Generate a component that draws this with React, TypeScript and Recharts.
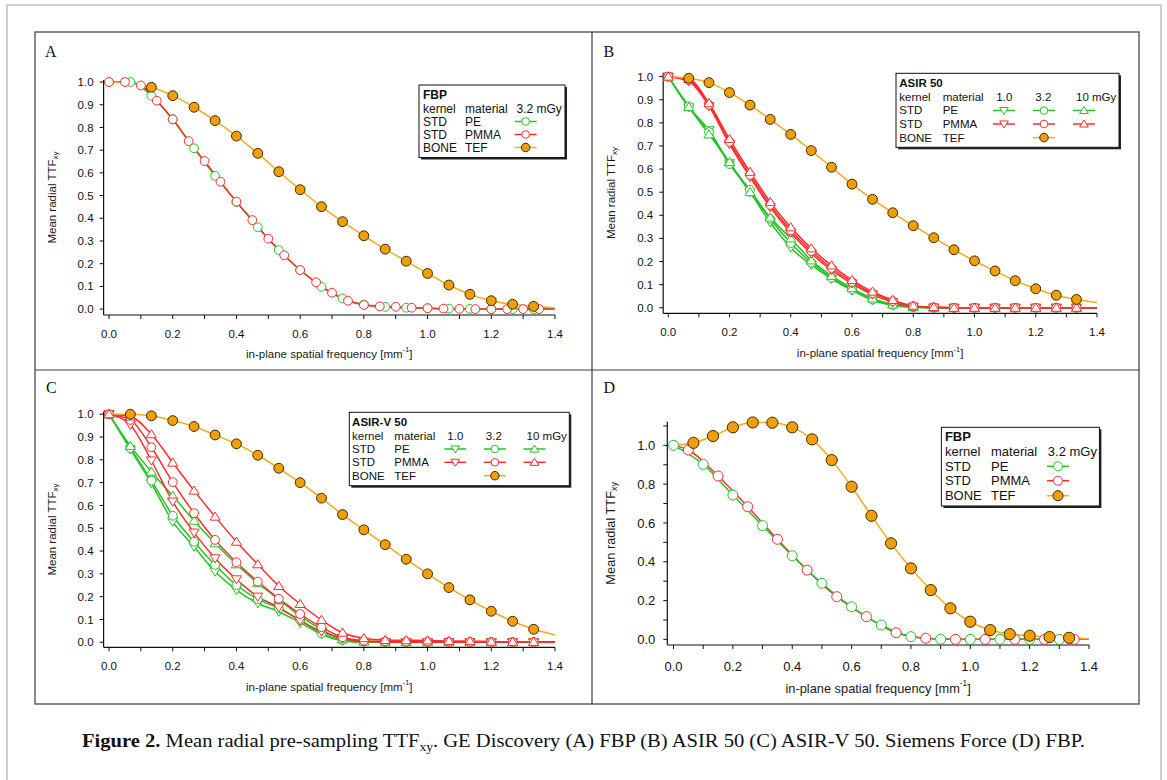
import React from "react";
import { ComposedChart, Line, XAxis, YAxis, Label } from "recharts";

const SANS = '"Liberation Sans", Arial, sans-serif';
const SERIF = '"Liberation Serif", "Times New Roman", serif';

const GREEN = "#25c425";
const RED = "#ff2d2d";
const ORANGE_LINE = "#f5ab1a";
const ORANGE_FILL = "#f29f05";
const DOT_EDGE = "#3b2a06";

// frequency grids in mm^-1; the last point is where the curve ends (no marker)
const F15 = [0, 0.067, 0.133, 0.2, 0.267, 0.333, 0.4, 0.467, 0.533, 0.6, 0.667, 0.733, 0.8, 0.867, 0.933, 1.0, 1.067, 1.133, 1.2, 1.267, 1.333, 1.4];
const F05 = [0, 0.05, 0.1, 0.15, 0.2, 0.25, 0.3, 0.35, 0.4, 0.45, 0.5, 0.55, 0.6, 0.65, 0.7, 0.75, 0.8, 0.85, 0.9, 0.95, 1.0, 1.05, 1.1, 1.15, 1.2, 1.25, 1.3, 1.35, 1.4];
const F10 = [0, 0.1, 0.2, 0.3, 0.4, 0.5, 0.6, 0.7, 0.8, 0.9, 1.0, 1.1, 1.2, 1.3, 1.4];
const F10H = [0, 0.05, 0.15, 0.25, 0.35, 0.45, 0.55, 0.65, 0.75, 0.85, 0.95, 1.05, 1.15, 1.25, 1.35, 1.4];

const X_TICKS = [0, 0.1, 0.2, 0.3, 0.4, 0.5, 0.6, 0.7, 0.8, 0.9, 1.0, 1.1, 1.2, 1.3, 1.4];
const Y_TICKS = [0, 0.1, 0.2, 0.3, 0.4, 0.5, 0.6, 0.7, 0.8, 0.9, 1.0];
const Y_TICKS_D = [0, 0.1, 0.2, 0.3, 0.4, 0.5, 0.6, 0.7, 0.8, 0.9, 1.0, 1.1];

// A: GE Discovery FBP
const A_PE = [1.0, 1.0, 0.94, 0.836, 0.708, 0.587, 0.472, 0.36, 0.26, 0.172, 0.098, 0.047, 0.02, 0.01, 0.006, 0.004, 0.002, 0.001, 0, 0, 0, 0];
const A_PMMA = [1.0, 1.0, 0.985, 0.918, 0.836, 0.74, 0.652, 0.561, 0.473, 0.392, 0.31, 0.237, 0.172, 0.118, 0.072, 0.037, 0.018, 0.012, 0.01, 0.006, 0.004, 0.002, 0.001, 0, 0, 0, 0, 0, 0];
const A_TEF = [1.0, 0.995, 0.977, 0.94, 0.889, 0.83, 0.762, 0.686, 0.605, 0.526, 0.451, 0.385, 0.323, 0.264, 0.211, 0.157, 0.106, 0.065, 0.037, 0.021, 0.012, 0.005];

// B: ASIR 50 (1.0 / 3.2 / 10 mGy)
const B_PE_1 = [1.0, 0.867, 0.768, 0.625, 0.5, 0.37, 0.26, 0.185, 0.125, 0.075, 0.032, 0.01, 0.002, 0, 0, 0, 0, 0, 0, 0, 0, 0];
const B_PE_3 = [1.0, 0.872, 0.76, 0.622, 0.51, 0.385, 0.28, 0.195, 0.13, 0.08, 0.036, 0.012, 0.002, 0, 0, 0, 0, 0, 0, 0, 0, 0];
const B_PE_10 = [1.0, 0.868, 0.75, 0.63, 0.5, 0.39, 0.3, 0.205, 0.138, 0.085, 0.04, 0.014, 0.003, 0, 0, 0, 0, 0, 0, 0, 0, 0];
const B_PMMA_1 = [1.0, 0.98, 0.872, 0.708, 0.565, 0.435, 0.325, 0.235, 0.163, 0.105, 0.057, 0.024, 0.005, 0.001, 0, 0, 0, 0, 0, 0, 0, 0];
const B_PMMA_3 = [1.0, 0.985, 0.878, 0.718, 0.575, 0.445, 0.335, 0.245, 0.172, 0.112, 0.063, 0.029, 0.007, 0.002, 0, 0, 0, 0, 0, 0, 0, 0];
const B_PMMA_10 = [1.0, 0.99, 0.885, 0.73, 0.588, 0.457, 0.348, 0.257, 0.183, 0.12, 0.07, 0.034, 0.009, 0.003, 0, 0, 0, 0, 0, 0, 0, 0];
const B_TEF = [1.0, 0.993, 0.974, 0.931, 0.877, 0.815, 0.75, 0.68, 0.608, 0.535, 0.469, 0.411, 0.355, 0.303, 0.251, 0.203, 0.159, 0.117, 0.082, 0.054, 0.036, 0.023];

// C: ASIR-V 50
const C_PE_1 = [1.0, 0.846, 0.697, 0.529, 0.419, 0.31, 0.229, 0.171, 0.134, 0.086, 0.035, 0.007, 0, 0, 0, 0, 0, 0, 0, 0, 0, 0];
const C_PE_3 = [1.0, 0.852, 0.709, 0.555, 0.441, 0.339, 0.251, 0.189, 0.149, 0.098, 0.039, 0.01, 0.001, 0, 0, 0, 0, 0, 0, 0, 0, 0];
const C_PE_10 = [1.0, 0.861, 0.748, 0.642, 0.533, 0.434, 0.342, 0.259, 0.189, 0.115, 0.057, 0.013, 0.003, 0, 0, 0, 0, 0, 0, 0, 0, 0];
const C_PMMA_1 = [1.0, 0.953, 0.797, 0.617, 0.481, 0.368, 0.276, 0.2, 0.153, 0.095, 0.047, 0.018, 0.003, 0.001, 0, 0, 0, 0, 0, 0, 0, 0];
const C_PMMA_3 = [1.0, 0.975, 0.855, 0.702, 0.566, 0.449, 0.351, 0.266, 0.191, 0.124, 0.066, 0.022, 0.007, 0.004, 0.003, 0.003, 0.002, 0.002, 0.001, 0.001, 0.001, 0.001];
const C_PMMA_10 = [1.0, 0.99, 0.912, 0.788, 0.665, 0.551, 0.441, 0.342, 0.247, 0.168, 0.098, 0.042, 0.018, 0.01, 0.009, 0.008, 0.006, 0.005, 0.003, 0.002, 0.002, 0.002];
const C_TEF = [1.0, 1.0, 0.993, 0.972, 0.946, 0.909, 0.87, 0.82, 0.763, 0.7, 0.632, 0.56, 0.493, 0.428, 0.364, 0.3, 0.24, 0.186, 0.136, 0.092, 0.057, 0.032];

// D: Siemens Force FBP
const D_PE = [1.0, 0.902, 0.744, 0.586, 0.431, 0.289, 0.168, 0.074, 0.014, 0.001, 0, 0, 0, 0, 0];
const D_PMMA = [1.0, 0.976, 0.842, 0.684, 0.516, 0.357, 0.22, 0.117, 0.034, 0.006, 0, 0, 0, 0, 0, 0];
const D_TEF = [1.0, 1.013, 1.048, 1.093, 1.118, 1.117, 1.093, 1.031, 0.924, 0.787, 0.637, 0.495, 0.366, 0.254, 0.16, 0.091, 0.048, 0.027, 0.019, 0.012, 0.008, 0.003];

const KERNELS = ["STD", "STD", "BONE"];
const MATERIALS = ["PE", "PMMA", "TEF"];
const DOSE_ONE = ["3.2 mGy"];
const DOSE_THREE = ["1.0", "3.2", "10 mGy"];

type Shape = "circle" | "down" | "up" | "dot";
type Series = { xs: number[]; ys: number[]; color: string; shape: Shape; from?: number };

function marker(shape: Shape, cx: number, cy: number, color: string, r: number) {
  if (shape === "dot")
    return <circle cx={cx} cy={cy} r={r * 1.12} fill={ORANGE_FILL} stroke={DOT_EDGE} strokeWidth={1} />;
  if (shape === "circle")
    return <circle cx={cx} cy={cy} r={r} fill="#fff" stroke={color} strokeWidth={1} />;
  const w = r * 1.15;
  const pts =
    shape === "up"
      ? `${cx},${cy - r * 1.05} ${cx - w},${cy + r * 0.8} ${cx + w},${cy + r * 0.8}`
      : `${cx},${cy + r * 1.05} ${cx - w},${cy - r * 0.8} ${cx + w},${cy - r * 0.8}`;
  return <polygon points={pts} fill="#fff" stroke={color} strokeWidth={1} />;
}

const lineColor = (s: Series) => (s.shape === "dot" ? ORANGE_LINE : s.color);

type Panel = {
  left: number; top: number; width: number; height: number;
  margin: { top: number; right: number };
  yW: number; xH: number;
  xDomain: [number, number]; yDomain: [number, number];
  yTicks: number[]; yEvery2: boolean;
  fs: number; titleFs: number; r: number;
  tickMX: number; tickMY: number;
  yTitleOff: number; xTitleOff: number;
  series: Series[];
};

const even = (v: number) => Math.round(v * 10) % 2 === 0;

function PanelChart({ p }: { p: Panel }) {
  const tick = { fontSize: p.fs, fill: "#111", fontFamily: SANS };
  return (
    <div style={{ position: "absolute", left: p.left, top: p.top }}>
      <ComposedChart width={p.width} height={p.height} margin={{ top: p.margin.top, right: p.margin.right, bottom: 0, left: 0 }}>
        <XAxis
          type="number" dataKey="x" domain={p.xDomain} ticks={X_TICKS} interval={0}
          tickFormatter={(v: number) => (even(v) ? v.toFixed(1) : "")}
          height={p.xH} tickSize={4} tickMargin={p.tickMX} tick={tick}
          axisLine={{ stroke: "#111", strokeWidth: 1.2 }} tickLine={{ stroke: "#111" }}
        >
          <Label
            content={(lp: any) => {
              const vb = lp.viewBox;
              const x = vb.x + vb.width / 2;
              const y = vb.y + p.xTitleOff;
              return (
                <text x={x} y={y} textAnchor="middle" dominantBaseline="central" fontFamily={SANS} fontSize={p.titleFs} fill="#1a1a1a">
                  in-plane spatial frequency [mm<tspan fontSize={p.titleFs * 0.65} dy={-p.titleFs * 0.4}>-1</tspan>
                  <tspan dy={p.titleFs * 0.4}>]</tspan>
                </text>
              );
            }}
          />
        </XAxis>
        <YAxis
          type="number" domain={p.yDomain} ticks={p.yTicks} interval={0}
          tickFormatter={(v: number) => (!p.yEvery2 || even(v) ? v.toFixed(1) : "")}
          width={p.yW} tickSize={4} tickMargin={p.tickMY} tick={tick}
          axisLine={{ stroke: "#111", strokeWidth: 1.2 }} tickLine={{ stroke: "#111" }}
        >
          <Label
            content={(lp: any) => {
              const vb = lp.viewBox;
              const x = vb.x + vb.width - p.yTitleOff;
              const y = vb.y + vb.height / 2;
              return (
                <text x={x} y={y} transform={`rotate(-90 ${x} ${y})`} textAnchor="middle" dominantBaseline="central" fontFamily={SANS} fontSize={p.titleFs} fill="#1a1a1a">
                  Mean radial TTF<tspan fontSize={p.titleFs * 0.7} dy={p.titleFs * 0.3}>xy</tspan>
                </text>
              );
            }}
          />
        </YAxis>
        {p.series.map((s, i) => {
          const data = s.xs.map((x, k) => ({ x, y: s.ys[k] }));
          const last = s.xs.length - 1;
          return (
            <Line
              key={i} data={data} dataKey="y" type="monotone"
              stroke={lineColor(s)} strokeWidth={1.5} activeDot={false} isAnimationActive={false}
              dot={(d: any) => {
                const k = `m${d.index}`;
                if (d.index < (s.from ?? 0) || d.index === last || d.cx == null) return <g key={k} />;
                return <g key={k}>{marker(s.shape, d.cx, d.cy, s.color, p.r)}</g>;
              }}
            />
          );
        })}
      </ComposedChart>
    </div>
  );
}

const PANELS: Panel[] = [
  {
    left: 36, top: 33, width: 555, height: 336, margin: { top: 47, right: 36 }, yW: 67.6, xH: 54,
    xDomain: [-0.017, 1.4], yDomain: [-0.026, 1.009], yTicks: Y_TICKS, yEvery2: false,
    fs: 11.5, titleFs: 11.5, r: 4.4, tickMX: 11, tickMY: 6, yTitleOff: 52, xTitleOff: 39,
    series: [
      { xs: F15, ys: A_PE, color: GREEN, shape: "circle" },
      { xs: F05, ys: A_PMMA, color: RED, shape: "circle" },
      { xs: F15, ys: A_TEF, color: ORANGE_FILL, shape: "dot", from: 2 },
    ],
  },
  {
    left: 593, top: 33, width: 545, height: 336, margin: { top: 39.7, right: 41 }, yW: 70.2, xH: 55.7,
    xDomain: [-0.0165, 1.4], yDomain: [-0.024, 1.017], yTicks: Y_TICKS, yEvery2: false,
    fs: 11.5, titleFs: 11.5, r: 4.4, tickMX: 11, tickMY: 6, yTitleOff: 52.7, xTitleOff: 40,
    series: [
      { xs: F15, ys: B_PE_1, color: GREEN, shape: "down" },
      { xs: F15, ys: B_PE_3, color: GREEN, shape: "circle" },
      { xs: F15, ys: B_PE_10, color: GREEN, shape: "up" },
      { xs: F15, ys: B_PMMA_1, color: RED, shape: "down" },
      { xs: F15, ys: B_PMMA_3, color: RED, shape: "circle" },
      { xs: F15, ys: B_PMMA_10, color: RED, shape: "up" },
      { xs: F15, ys: B_TEF, color: ORANGE_FILL, shape: "dot", from: 1 },
    ],
  },
  {
    left: 36, top: 371, width: 555, height: 332, margin: { top: 40.7, right: 36 }, yW: 67.6, xH: 55.7,
    xDomain: [-0.017, 1.4], yDomain: [-0.022, 1.011], yTicks: Y_TICKS, yEvery2: false,
    fs: 11.5, titleFs: 11.5, r: 4.4, tickMX: 11, tickMY: 6, yTitleOff: 52, xTitleOff: 39.4,
    series: [
      { xs: F15, ys: C_PE_1, color: GREEN, shape: "down" },
      { xs: F15, ys: C_PE_3, color: GREEN, shape: "circle" },
      { xs: F15, ys: C_PE_10, color: GREEN, shape: "up" },
      { xs: F15, ys: C_PMMA_1, color: RED, shape: "down" },
      { xs: F15, ys: C_PMMA_3, color: RED, shape: "circle" },
      { xs: F15, ys: C_PMMA_10, color: RED, shape: "up" },
      { xs: F15, ys: C_TEF, color: ORANGE_FILL, shape: "dot", from: 1 },
    ],
  },
  {
    left: 593, top: 371, width: 545, height: 332, margin: { top: 50.7, right: 49 }, yW: 74.3, xH: 58,
    xDomain: [-0.021, 1.4], yDomain: [-0.029, 1.122], yTicks: Y_TICKS_D, yEvery2: true,
    fs: 13, titleFs: 12.8, r: 5, tickMX: 12.5, tickMY: 8, yTitleOff: 57, xTitleOff: 43.3,
    series: [
      { xs: F10H, ys: D_PMMA, color: RED, shape: "circle", from: 1 },
      { xs: F10, ys: D_PE, color: GREEN, shape: "circle" },
      { xs: F15, ys: D_TEF, color: ORANGE_FILL, shape: "dot", from: 1 },
    ],
  },
];

type LegendSpec = {
  x: number; y: number; w: number; h: number; fs: number; r: number;
  title: string; rows: number[]; kx: number; mx: number;
  doses: string[]; doseX: number[]; doseAnchor: ("start" | "middle")[];
  markX: number[];
  marks: { shape: Shape; color: string; col: number }[][];
};

const LEGENDS: LegendSpec[] = [
  {
    x: 419, y: 85, w: 146, h: 72.5, fs: 12, r: 3.8, title: "FBP", rows: [10, 23.5, 36.5, 49.5, 62.5], kx: 4, mx: 46,
    doses: DOSE_ONE, doseX: [97.5], doseAnchor: ["start"], markX: [106.7],
    marks: [[{ shape: "circle", color: GREEN, col: 0 }], [{ shape: "circle", color: RED, col: 0 }], [{ shape: "dot", color: ORANGE_FILL, col: 0 }]],
  },
  {
    x: 896, y: 73.3, w: 223, h: 74, fs: 11.5, r: 3.8, title: "ASIR 50", rows: [10, 23.7, 37.2, 50.7, 64.3], kx: 3.3, mx: 46.7,
    doses: DOSE_THREE, doseX: [108.3, 147.3, 180], doseAnchor: ["middle", "middle", "start"], markX: [108, 148, 188],
    marks: [
      [{ shape: "down", color: GREEN, col: 0 }, { shape: "circle", color: GREEN, col: 1 }, { shape: "up", color: GREEN, col: 2 }],
      [{ shape: "down", color: RED, col: 0 }, { shape: "circle", color: RED, col: 1 }, { shape: "up", color: RED, col: 2 }],
      [{ shape: "dot", color: ORANGE_FILL, col: 1 }],
    ],
  },
  {
    x: 349.3, y: 412.3, w: 220, h: 73.4, fs: 11.5, r: 3.8, title: "ASIR-V 50", rows: [10, 23.4, 36.7, 50, 63.4], kx: 2.8, mx: 45,
    doses: DOSE_THREE, doseX: [106, 144.5, 177.3], doseAnchor: ["middle", "middle", "start"], markX: [106, 145.6, 185.2],
    marks: [
      [{ shape: "down", color: GREEN, col: 0 }, { shape: "circle", color: GREEN, col: 1 }, { shape: "up", color: GREEN, col: 2 }],
      [{ shape: "down", color: RED, col: 0 }, { shape: "circle", color: RED, col: 1 }, { shape: "up", color: RED, col: 2 }],
      [{ shape: "dot", color: ORANGE_FILL, col: 1 }],
    ],
  },
  {
    x: 941.4, y: 427.3, w: 158, h: 78.7, fs: 13, r: 4.5, title: "FBP", rows: [9.6, 24.7, 39, 53.4, 68.4], kx: 3.5, mx: 49.6,
    doses: DOSE_ONE, doseX: [106.4], doseAnchor: ["start"], markX: [116.6],
    marks: [[{ shape: "circle", color: GREEN, col: 0 }], [{ shape: "circle", color: RED, col: 0 }], [{ shape: "dot", color: ORANGE_FILL, col: 0 }]],
  },
];

function LegendBox({ L }: { L: LegendSpec }) {
  const t = { fontFamily: SANS, fontSize: L.fs, fill: "#111", dominantBaseline: "central" as const };
  return (
    <g transform={`translate(${L.x},${L.y})`}>
      <rect x={2} y={2} width={L.w} height={L.h} fill="#222" />
      <rect x={0} y={0} width={L.w} height={L.h} fill="#fff" stroke="#111" strokeWidth={1} />
      <text x={L.kx} y={L.rows[0]} {...t} fontWeight="bold">{L.title}</text>
      <text x={L.kx} y={L.rows[1]} {...t}>kernel</text>
      <text x={L.mx} y={L.rows[1]} {...t}>material</text>
      {L.doses.map((d, i) => (
        <text key={d} x={L.doseX[i]} y={L.rows[1]} {...t} textAnchor={L.doseAnchor[i]}>{d}</text>
      ))}
      {KERNELS.map((k, i) => (
        <g key={i}>
          <text x={L.kx} y={L.rows[i + 2]} {...t}>{k}</text>
          <text x={L.mx} y={L.rows[i + 2]} {...t}>{MATERIALS[i]}</text>
          {L.marks[i].map((m, j) => {
            const cx = L.markX[m.col];
            const cy = L.rows[i + 2];
            const c = m.shape === "dot" ? ORANGE_LINE : m.color;
            return (
              <g key={j}>
                <line x1={cx - 11} x2={cx + 11} y1={cy} y2={cy} stroke={c} strokeWidth={1.5} />
                {marker(m.shape, cx, cy, m.color, L.r)}
              </g>
            );
          })}
        </g>
      ))}
    </g>
  );
}

const LETTERS = [
  { t: "A", x: 45, y: 57 },
  { t: "B", x: 603.6, y: 57 },
  { t: "C", x: 46, y: 393 },
  { t: "D", x: 603.6, y: 393 },
];

export default function App() {
  return (
    <div style={{ position: "absolute", left: 0, top: 0, width: 1167, height: 780, background: "#fff", overflow: "hidden" }}>
      {PANELS.map((p, i) => (
        <PanelChart key={i} p={p} />
      ))}
      <svg width={1167} height={780} style={{ position: "absolute", left: 0, top: 0, pointerEvents: "none" }}>
        <rect x={7} y={5} width={1154} height={800} fill="none" stroke="#cfcfcf" strokeWidth={2} />
        <rect x={35} y={32} width={1104} height={672} fill="none" stroke="#3a3a3a" strokeWidth={1.2} />
        <line x1={35} x2={1139} y1={370} y2={370} stroke="#3a3a3a" strokeWidth={1.2} />
        <line x1={592} x2={592} y1={32} y2={704} stroke="#3a3a3a" strokeWidth={1.2} />
        {LETTERS.map((l) => (
          <text key={l.t} x={l.x} y={l.y} fontFamily={SERIF} fontSize={16} fill="#111">{l.t}</text>
        ))}
        {LEGENDS.map((L, i) => (
          <LegendBox key={i} L={L} />
        ))}
        <text x={583.5} y={747} textAnchor="middle" fontFamily={SERIF} fontSize={19} fill="#111" textLength={1003} lengthAdjust="spacingAndGlyphs">
          <tspan fontWeight="bold">Figure 2.</tspan>
          <tspan>{" Mean radial pre-sampling TTF"}</tspan>
          <tspan fontSize={12.5} dy={4}>xy</tspan>
          <tspan dy={-4}>{". GE Discovery (A) FBP (B) ASIR 50 (C) ASIR-V 50. Siemens Force (D) FBP."}</tspan>
        </text>
      </svg>
    </div>
  );
}
